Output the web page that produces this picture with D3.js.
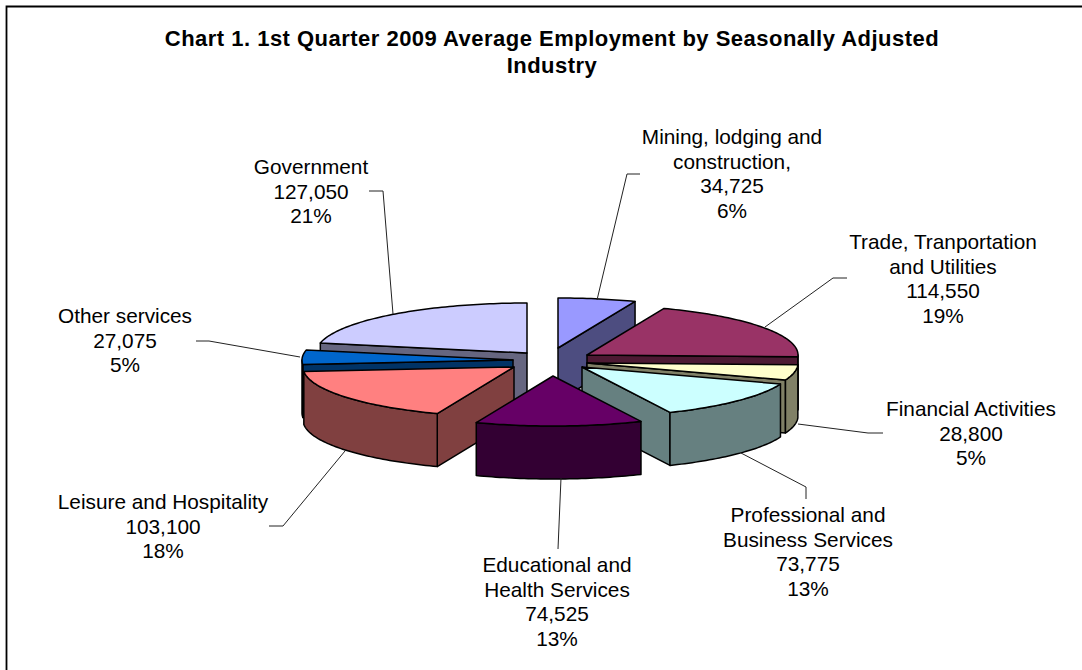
<!DOCTYPE html>
<html>
<head>
<meta charset="utf-8">
<script src="https://cdn.jsdelivr.net/npm/d3@7"></script>
<style>
  html, body { margin: 0; padding: 0; background: #fff; }
  svg { display: block; }
  text { font-family: "Liberation Sans", Arial, sans-serif; fill: #000; }
</style>
</head>
<body>
<div id="my_dataviz"></div>
<script>
  // chart data
  const titleLines = [
    "Chart 1. 1st Quarter 2009 Average Employment by Seasonally Adjusted",
    "Industry"
  ];
  const categories = [
    ["Mining, lodging and", "construction,"],
    ["Trade, Tranportation", "and Utilities"],
    ["Financial Activities"],
    ["Professional and", "Business Services"],
    ["Educational and", "Health Services"],
    ["Leisure and Hospitality"],
    ["Other services"],
    ["Government"]
  ];
  const values = [34725, 114550, 28800, 73775, 74525, 103100, 27075, 127050];
  const percents = ["6%", "19%", "5%", "13%", "13%", "18%", "5%", "21%"];

  // styles
  const topColors = ["#9999ff", "#993366", "#ffffcc", "#ccffff", "#660066", "#ff8080", "#0066cc", "#ccccff"];
  const sideColors = ["#4d4d80", "#4d1a33", "#808066", "#668080", "#330033", "#804040", "#003366", "#666680"];

  // layout of the tilted pie
  const width = 1082, height = 670;
  const cx = 551, cy = 362;   // pie centre before the slices are pulled out
  const rx = 211, ry = 50;    // ellipse of the top face
  const depth = 53;           // thickness of the pie
  const explode = [[7, -14], [36, -7], [36, 1], [31, 5], [2, 14], [-37, 5], [-38, -2], [-24, -9]];
  // slices painted back to front
  const paintOrder = [7, 0, 1, 6, 2, 5, 3, 4];

  // label anchors: centre x, first baseline
  const labelPos = [[732, 144], [943, 249], [971, 416], [808, 522], [557, 572], [163, 509], [125, 323], [311, 174]];
  const lineGap = 24.6;
  const leaders = [
    [[597, 300], [627, 174], [640, 174]],
    [[765, 327], [833, 278], [847, 278]],
    [[798, 424], [868, 433], [883, 433]],
    [[741, 453], [806, 487], [806, 499]],
    [[561, 478], [558, 549]],
    [[345, 451], [283, 526], [269, 526]],
    [[300, 357], [209, 341], [196, 341]],
    [[393, 314], [383, 191], [369, 191]]
  ];

  const svg = d3.select("#my_dataviz")
    .append("svg")
      .attr("width", width)
      .attr("height", height);

  // outer frame: only the top and left edges show
  svg.append("path")
    .attr("d", `M6.5,${height}V6.5H${width}`)
    .attr("fill", "none")
    .attr("stroke", "#000")
    .attr("stroke-width", 1.8);

  svg.selectAll(".title")
    .data(titleLines)
    .join("text")
      .attr("class", "title")
      .attr("x", 552)
      .attr("y", (d, i) => 46 + i * 27)
      .attr("text-anchor", "middle")
      .attr("font-size", 22)
      .attr("letter-spacing", 0.48)
      .attr("font-weight", "bold")
      .text(d => d);

  const pie = d3.pie().sort(null).startAngle(0).endAngle(2 * Math.PI);
  const slices = pie(values);
  const line = d3.line();

  // point on the rim of a slice whose apex sits at (ox, oy)
  function rim(ox, oy, a) {
    return [ox + rx * Math.sin(a), oy - ry * Math.cos(a)];
  }
  function arcPoints(ox, oy, a0, a1) {
    const n = Math.max(2, Math.ceil((a1 - a0) / 0.02));
    return d3.range(n + 1).map(i => rim(ox, oy, a0 + (a1 - a0) * i / n));
  }
  function cutFace(ox, oy, a) {
    const p = rim(ox, oy, a);
    return line([[ox, oy], p, [p[0], p[1] + depth], [ox, oy + depth]]) + "Z";
  }

  const pieG = svg.append("g")
    .attr("stroke", "#000")
    .attr("stroke-width", 1.5)
    .attr("stroke-linejoin", "round");

  paintOrder.forEach(function(i) {
    const s = slices[i];
    const ox = cx + explode[i][0], oy = cy + explode[i][1];
    const side = sideColors[i];

    // cut faces that turn toward the viewer
    if (Math.sin(s.startAngle) < -0.01) {
      pieG.append("path").attr("fill", side).attr("d", cutFace(ox, oy, s.startAngle));
    }
    if (Math.sin(s.endAngle) > 0.01) {
      pieG.append("path").attr("fill", side).attr("d", cutFace(ox, oy, s.endAngle));
    }

    // outer wall, only the front half of the rim
    const w0 = Math.max(s.startAngle, Math.PI / 2), w1 = Math.min(s.endAngle, 3 * Math.PI / 2);
    if (w1 > w0) {
      const upper = arcPoints(ox, oy, w0, w1);
      const lower = upper.map(p => [p[0], p[1] + depth]).reverse();
      pieG.append("path").attr("fill", side).attr("d", line(upper.concat(lower)) + "Z");
    }

    // top face
    pieG.append("path")
      .attr("fill", topColors[i])
      .attr("d", line([[ox, oy]].concat(arcPoints(ox, oy, s.startAngle, s.endAngle))) + "Z");
  });

  // leader lines
  svg.selectAll(".leader")
    .data(leaders)
    .join("path")
      .attr("class", "leader")
      .attr("fill", "none")
      .attr("stroke", "#222")
      .attr("stroke-width", 1)
      .attr("d", d => line(d));

  // data labels
  const fmt = d3.format(",");
  categories.forEach(function(cat, i) {
    const rows = cat.concat([fmt(values[i]), percents[i]]);
    svg.append("g").selectAll("text")
      .data(rows)
      .join("text")
        .attr("x", labelPos[i][0])
        .attr("y", (d, j) => labelPos[i][1] + j * lineGap)
        .attr("text-anchor", "middle")
        .attr("font-size", 20.8)
        .text(d => d);
  });
</script>
</body>
</html>
